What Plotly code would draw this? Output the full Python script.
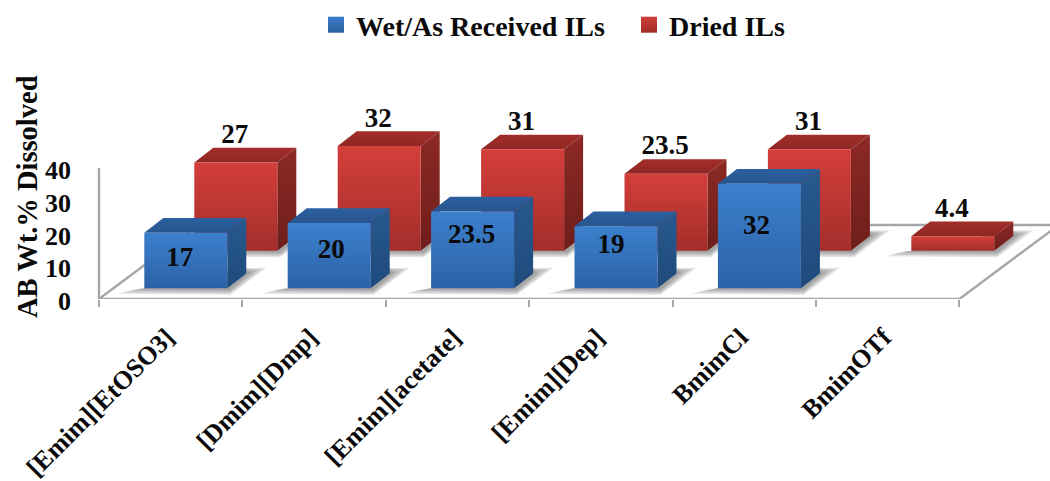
import plotly.graph_objects as go

# Chart data
categories = ["[Emim][EtOSO3]", "[Dmim][Dmp]", "[Emim][acetate]", "[Emim][Dep]", "BmimCl", "BmimOTf"]
wet_values = [17, 20, 23.5, 19, 32, None]
dried_values = [27, 32, 31, 23.5, 31, 4.4]
y_ticks = [0, 10, 20, 30, 40]

# Pseudo-3D projection, expressed in screen pixels per axis unit
WIDTH, HEIGHT = 1050, 481
FLOOR_FRONT_PX = 299
CAT_PX = 143.4
VAL_PX = 3.27
AXIS_LEFT_PX = 99
BAR_W = 83 / CAT_PX
DEPTH_X = 19 / CAT_PX
DEPTH_Y = 14.7 / VAL_PX
SKEW = 1.34 * VAL_PX / CAT_PX  # floor run per value unit of rise
FLOOR_BACK = 74 / VAL_PX

FONT = "Liberation Serif"
TEXT = "#0a0a0a"
GREY = "#a6a6a6"

WET = dict(name="Wet/As Received ILs", left=-26.4 / CAT_PX, base=10.7 / VAL_PX,
           front=("#3c80ce", "#2c62a6"), top=("#2b5f9f", "#28568f"), side=("#27598f", "#1f4a7b"))
DRIED = dict(name="Dried ILs", left=23.6 / CAT_PX, base=48.3 / VAL_PX,
             front=("#d43f3a", "#a32e2b"), top=("#a32e2a", "#8f2724"), side=("#8c2925", "#6f1e1b"))

fig = go.Figure()


def polygon(xs, ys, colors=None, fillcolor=None):
    style = dict(fillcolor=fillcolor) if fillcolor else dict(
        fillgradient=dict(type="vertical", colorscale=[[0, colors[1]], [1, colors[0]]]))
    fig.add_trace(go.Scatter(x=xs, y=ys, mode="none", fill="toself", hoverinfo="skip",
                             showlegend=False, **style))


def add_shadows(series, values):
    for i, v in enumerate(values):
        if v is None:
            continue
        x0, b = i + series["left"], series["base"]
        for grow in (3, 2, 1, 0):
            gx, gy = grow * 5 / CAT_PX, grow * 1.5 / VAL_PX
            xs = [x0 - 12 / CAT_PX - gx, x0 + BAR_W + 3 / CAT_PX, x0 + BAR_W + 24 / CAT_PX + gx,
                  x0 + BAR_W + 14 / CAT_PX, x0]
            ys = [b - 1 / VAL_PX - gy, b - 2 / VAL_PX - gy, b + 16 / VAL_PX + gy, b + 20 / VAL_PX, b]
            polygon(xs, ys, fillcolor="rgba(70,70,70,0.15)")


def add_bars(series, values):
    for i, v in enumerate(values):
        if v is None:
            continue
        x0, x1 = i + series["left"], i + series["left"] + BAR_W
        y0, y1 = series["base"], series["base"] + v
        polygon([x0, x1, x1 + DEPTH_X, x0 + DEPTH_X], [y1, y1, y1 + DEPTH_Y, y1 + DEPTH_Y], series["top"])
        polygon([x1, x1 + DEPTH_X, x1 + DEPTH_X, x1], [y0, y0 + DEPTH_Y, y1 + DEPTH_Y, y1], series["side"])
        polygon([x0, x1, x1, x0], [y0, y0, y1, y1], series["front"])


# Floor outline and the value axis wall line
left_edge = -0.5
right_edge = len(categories) - 0.5
floor_x = [left_edge + SKEW * FLOOR_BACK, left_edge, right_edge, right_edge + SKEW * FLOOR_BACK,
           None, left_edge + SKEW * FLOOR_BACK, right_edge + SKEW * FLOOR_BACK,
           None, left_edge, left_edge]
floor_y = [FLOOR_BACK, 0, 0, FLOOR_BACK, None, FLOOR_BACK, FLOOR_BACK, None, 0, y_ticks[-1]]
fig.add_trace(go.Scatter(x=floor_x, y=floor_y, mode="lines", line=dict(color=GREY, width=2.4),
                         hoverinfo="skip", showlegend=False))

add_shadows(DRIED, dried_values)
add_shadows(WET, wet_values)
add_bars(DRIED, dried_values)
add_bars(WET, wet_values)

# Value labels: dried labels float over the bar, wet labels sit on the front face
wet_nudge_x = [-6, 2, -1, -5, -3, 0]
wet_nudge_y = [1, 4.5, 14, 11, 9, 0]
wet_points = [(i, v) for i, v in enumerate(wet_values) if v is not None]
fig.add_trace(go.Scatter(
    x=[i + WET["left"] + BAR_W / 2 + wet_nudge_x[i] / CAT_PX for i, v in wet_points],
    y=[WET["base"] + v / 2 + wet_nudge_y[i] / VAL_PX for i, v in wet_points],
    text=[f"{v:g}" for i, v in wet_points], mode="text", textposition="middle center",
    textfont=dict(family=FONT, size=27, color=TEXT, weight=700), hoverinfo="skip", showlegend=False))
fig.add_trace(go.Scatter(
    x=[i + DRIED["left"] + BAR_W / 2 - 1 / CAT_PX for i in range(len(dried_values))],
    y=[DRIED["base"] + v + DEPTH_Y + 11.5 / VAL_PX for v in dried_values],
    text=[f"{v:g}" for v in dried_values], mode="text", textposition="middle center",
    textfont=dict(family=FONT, size=27, color=TEXT, weight=700), hoverinfo="skip", showlegend=False))

# Legend entries
for series, swatch in ((WET, ("#3a7dca", "#2c5f9e")), (DRIED, ("#cf3d38", "#a02d2a"))):
    fig.add_trace(go.Scatter(x=[None], y=[None], mode="markers", name=series["name"],
                             marker=dict(symbol="square", size=17, color=swatch[0],
                                         gradient=dict(type="vertical", color=swatch[1]))))

x_start = -(AXIS_LEFT_PX + CAT_PX / 2) / CAT_PX
fig.update_layout(
    width=WIDTH, height=HEIGHT, autosize=False,
    margin=dict(l=0, r=0, t=0, b=HEIGHT - FLOOR_FRONT_PX, pad=0),
    paper_bgcolor="white", plot_bgcolor="white",
    font=dict(family=FONT, color=TEXT, size=27, weight=700),
    # Rotated category labels end a little left of each category centre
    xaxis=dict(range=[x_start, x_start + WIDTH / CAT_PX], tickmode="array", automargin=False,
               tickvals=[i - 4 / CAT_PX for i in range(len(categories))], ticktext=categories, tickangle=-45,
               ticks="", ticklabelstandoff=17, showgrid=False, zeroline=False, showline=False,
               tickfont=dict(family=FONT, size=26, color=TEXT, weight=700),
               minor=dict(tickmode="array", tickvals=[i - 0.5 for i in range(len(categories) + 1)],
                          ticks="outside", ticklen=7, tickwidth=1.5, tickcolor=GREY, showgrid=False)),
    yaxis=dict(range=[0, FLOOR_FRONT_PX / VAL_PX], anchor="free", position=AXIS_LEFT_PX / WIDTH,
               tickmode="array", tickvals=y_ticks, ticklabelshift=2,
               ticks="", ticklabelstandoff=28, automargin=False,
               showgrid=False, zeroline=False, showline=False,
               tickfont=dict(family=FONT, size=26, color=TEXT, weight=700)),
    legend=dict(orientation="h", x=316 / WIDTH, xanchor="left", y=1, yanchor="top",
                entrywidth=268, entrywidthmode="pixels",
                font=dict(family=FONT, size=28, color=TEXT, weight=700), bgcolor="rgba(0,0,0,0)"),
    annotations=[dict(text="AB Wt.% Dissolved", xref="paper", yref="paper", xanchor="center", yanchor="middle",
                      x=27 / WIDTH, y=1 - 197 / FLOOR_FRONT_PX, textangle=-90, showarrow=False,
                      font=dict(family=FONT, size=28.5, color=TEXT, weight=700))],
)

fig.write_html("out.html")
